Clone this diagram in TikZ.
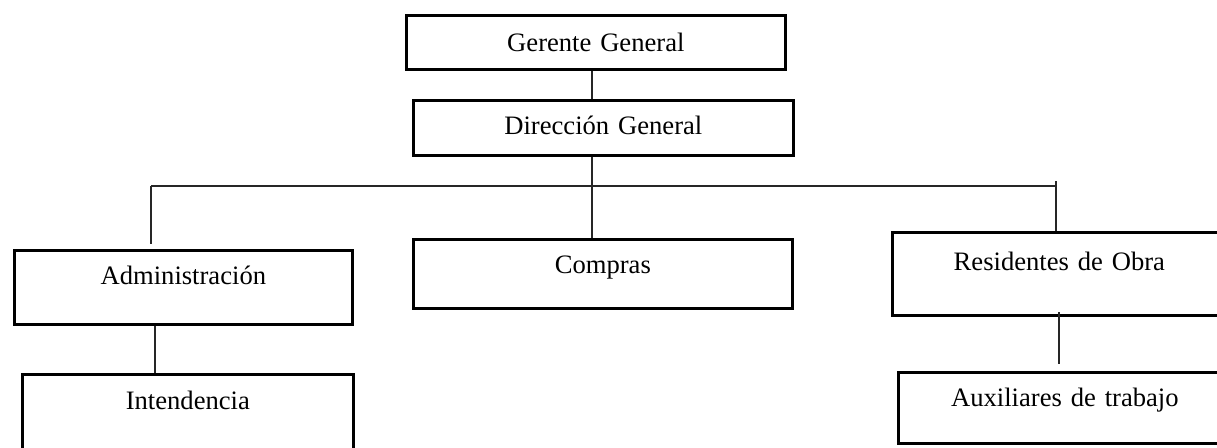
\documentclass[tikz,border=0pt]{standalone}
\usepackage{fontspec}
\setmainfont{Liberation Serif}
\tikzset{
  unitbox/.style={draw, anchor=north west, inner sep=0pt, align=center,
    line width=1.35pt, font=\fontsize{13.3}{16}\selectfont},
  link/.style={line width=0.65pt, black!85}
}
% \orgbox{name}{left}{top}{right}{bottom}{baseline}{label}, all in grid units
\newcommand\orgbox[7]{%
  \pgfmathsetmacro\bw{(#4-#2)*0.5}%
  \pgfmathsetmacro\bh{(#6-#3)*0.5}%
  \pgfmathsetmacro\bd{(#5-#6)*0.5}%
  \node[unitbox, text width=\bw pt, text height=\bh pt, text depth=\bd pt] (#1) at (#2,#3) {#7};%
}
\begin{document}
\begin{tikzpicture}[x=0.5pt, y=-0.5pt]
  \clip (0,0) rectangle (1217,447);
  \fill[white] (0,0) rectangle (1217,447);

  % boxes
  \orgbox{g}{405}{14}{784}{68}{50}{Gerente General}
  \orgbox{d}{412}{99}{792}{154}{133}{Dirección General}
  \orgbox{a}{13}{249}{351}{323}{283}{Administración}
  \orgbox{i}{21}{373}{352}{462}{408}{Intendencia}
  \orgbox{c}{412}{238}{791}{307}{272}{Compras}
  \orgbox{r}{891}{231}{1225}{314}{269}{Residentes de Obra}
  \orgbox{x}{897}{371}{1230}{442}{405}{Auxiliares de trabajo}

  % bus and drops
  \coordinate (busL) at (151,186);
  \coordinate (busR) at (1056,186);
  \coordinate (dropL) at (151,244);
  \coordinate (dropR) at (1056,181);
  \coordinate (rx1) at (1059,312);
  \coordinate (rx2) at (1059,364);

  \draw[link] (592,0 |- g.south) -- (592,0 |- d.north);
  \draw[link] (592,0 |- d.south) -- (592,0 |- c.north);
  \draw[link] (busL) -- (busR);
  \draw[link] (busL) -- (dropL);
  \draw[link] (dropR) -- (dropR |- r.north);
  \draw[link] (155,0 |- a.south) -- (155,0 |- i.north);
  \draw[link] (rx1) -- (rx2);
\end{tikzpicture}
\end{document}
